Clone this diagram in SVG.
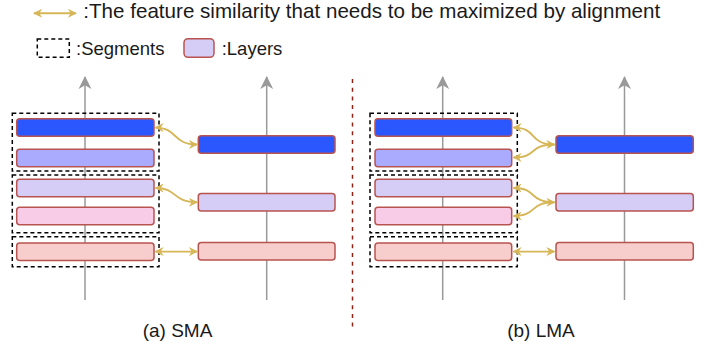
<svg xmlns="http://www.w3.org/2000/svg" width="715" height="347" viewBox="0 0 715 347">
<style>
text{font-family:"Liberation Sans",Arial,sans-serif;fill:#1a1a1a}
.seg{fill:none;stroke:#000;stroke-width:1.5;stroke-dasharray:4 3}
.ly{stroke:#b85450;stroke-width:1.5}
.c1{fill:#2a57ff}.c2{fill:#aaaaff}.c3{fill:#d5cdf5}.c4{fill:#f8cce6}.c5{fill:#f8cecc}
.axis{stroke:#999;stroke-width:1.5;fill:none}
.al{fill:none;stroke:#d6b656;stroke-width:1.9}
</style>
<defs>
<marker id="ga" viewBox="0 0 10 10" refX="9" refY="5" markerWidth="10" markerHeight="9" markerUnits="userSpaceOnUse" orient="auto-start-reverse"><path d="M0,0 L10,5 L0,10 L3,5 z" fill="#d6b656"/></marker>
<marker id="gr" viewBox="0 0 14 14" refX="13" refY="7" markerWidth="13" markerHeight="14" markerUnits="userSpaceOnUse" orient="auto"><path d="M0,0 L14,7 L0,14 L4,7 z" fill="#999"/></marker>
</defs>

<g id="legend">
<path class="al" d="M34,13.3 H76" marker-start="url(#ga)" marker-end="url(#ga)"/>
<text x="83.3" y="17.5" font-size="20.6">:The feature similarity that needs to be maximized by alignment</text>
<rect x="37.3" y="39" width="32" height="18.3" class="seg"/>
<text x="76" y="55" font-size="18.5">:Segments</text>
<rect x="184" y="38.7" width="30" height="18.6" rx="4" class="ly c3"/>
<text x="221.7" y="55" font-size="18.5">:Layers</text>
</g>

<g id="divider"><line x1="352.5" y1="79" x2="352.5" y2="331" stroke="#8c2416" stroke-width="1.5" stroke-dasharray="4 4.7"/></g>

<g id="axes">
<path class="axis" d="M85,300 V77" marker-end="url(#gr)"/>
<path class="axis" d="M266.7,300 V77" marker-end="url(#gr)"/>
<path class="axis" d="M442.7,300 V77" marker-end="url(#gr)"/>
<path class="axis" d="M624.5,300 V77" marker-end="url(#gr)"/>
</g>

<g id="sma">
<g id="sma-seg1"><rect x="12.3" y="113.3" width="146.7" height="57.7" class="seg"/></g>
<g id="sma-seg2"><rect x="12.3" y="175" width="146.7" height="57.7" class="seg"/></g>
<g id="sma-seg3"><rect x="12.3" y="236.7" width="146.7" height="30" class="seg"/></g>
<g id="sma-l1"><rect x="16.7" y="118.8" width="137.3" height="17.5" rx="3" class="ly c1"/></g>
<g id="sma-l2"><rect x="16.7" y="149.3" width="137.3" height="17.5" rx="3" class="ly c2"/></g>
<g id="sma-l3"><rect x="16.7" y="179.3" width="137.3" height="17.5" rx="3" class="ly c3"/></g>
<g id="sma-l4"><rect x="16.7" y="207.3" width="137.3" height="17.5" rx="3" class="ly c4"/></g>
<g id="sma-l5"><rect x="16.7" y="243" width="137.3" height="17.5" rx="3" class="ly c5"/></g>
<g id="sma-r1"><rect x="198.3" y="135.8" width="136.7" height="17.5" rx="3" class="ly c1"/></g>
<g id="sma-r2"><rect x="198.3" y="193.6" width="136.7" height="17.5" rx="3" class="ly c3"/></g>
<g id="sma-r3"><rect x="198.3" y="242.6" width="136.7" height="17.5" rx="3" class="ly c5"/></g>
</g>

<g id="lma">
<g id="lma-seg1"><rect x="370" y="113.3" width="147.3" height="57.7" class="seg"/></g>
<g id="lma-seg2"><rect x="370" y="175" width="147.3" height="57.7" class="seg"/></g>
<g id="lma-seg3"><rect x="370" y="236.7" width="147.3" height="30" class="seg"/></g>
<g id="lma-l1"><rect x="375" y="118.8" width="136.7" height="17.5" rx="3" class="ly c1"/></g>
<g id="lma-l2"><rect x="375" y="149.3" width="136.7" height="17.5" rx="3" class="ly c2"/></g>
<g id="lma-l3"><rect x="375" y="179.3" width="136.7" height="17.5" rx="3" class="ly c3"/></g>
<g id="lma-l4"><rect x="375" y="207.3" width="136.7" height="17.5" rx="3" class="ly c4"/></g>
<g id="lma-l5"><rect x="375" y="243" width="136.7" height="17.5" rx="3" class="ly c5"/></g>
<g id="lma-r1"><rect x="556" y="135.8" width="137.3" height="17.5" rx="3" class="ly c1"/></g>
<g id="lma-r2"><rect x="556" y="193.6" width="137.3" height="17.5" rx="3" class="ly c3"/></g>
<g id="lma-r3"><rect x="556" y="242.6" width="137.3" height="17.5" rx="3" class="ly c5"/></g>
</g>

<g id="connectors">
<path class="al" d="M155.5,127.6 C178,127.6 172,144.5 197,144.5" marker-start="url(#ga)" marker-end="url(#ga)"/>
<path class="al" d="M155.5,188 C178,188 172,202.3 197,202.3" marker-start="url(#ga)" marker-end="url(#ga)"/>
<path class="al" d="M155.5,251.6 H197" marker-start="url(#ga)" marker-end="url(#ga)"/>
<path class="al" d="M513.5,127.6 C538,127.6 528,144.5 554.5,144.5" marker-start="url(#ga)" marker-end="url(#ga)"/>
<path class="al" d="M513.5,157.5 C538,157.5 528,144.5 554.5,144.5" marker-start="url(#ga)"/>
<path class="al" d="M513.5,188 C538,188 528,202.3 554.5,202.3" marker-start="url(#ga)" marker-end="url(#ga)"/>
<path class="al" d="M513.5,216 C538,216 528,202.3 554.5,202.3" marker-start="url(#ga)"/>
<path class="al" d="M513.5,251.6 H554.5" marker-start="url(#ga)" marker-end="url(#ga)"/>
</g>

<g id="captions">
<text x="177.5" y="336.7" font-size="19" text-anchor="middle">(a) SMA</text>
<text x="541" y="336.7" font-size="19" text-anchor="middle">(b) LMA</text>
</g>
</svg>
